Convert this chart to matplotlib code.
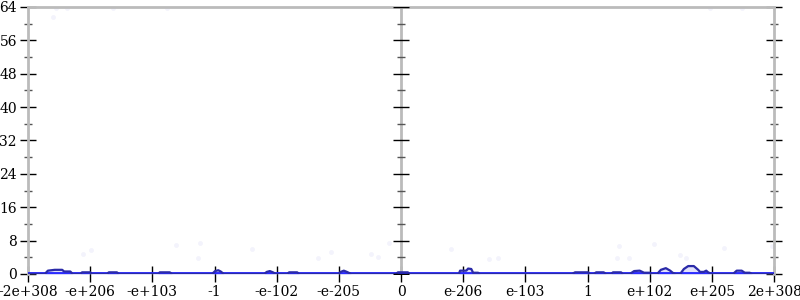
import matplotlib
matplotlib.use("Agg")
import matplotlib.pyplot as plt
import numpy as np

# tick positions are evenly spaced "ulp" buckets across the double range
tick_labels = ["-2e+308", "-e+206", "-e+103", "-1", "-e-102", "-e-205", "0",
               "e-206", "e-103", "1", "e+102", "e+205", "2e+308"]
y_ticks = [0, 8, 16, 24, 32, 40, 48, 56, 64]

# histogram curve (bucket position, count)
curve_x = [0, 0.27, 0.32, 0.43, 0.55, 0.58, 0.68, 0.72, 0.84, 0.87, 1.0, 1.03,
           1.27, 1.30, 1.43, 1.46, 2.09, 2.12, 2.28, 2.32, 2.96, 3.01, 3.06, 3.10,
           3.15, 3.80, 3.84, 3.89, 3.94, 3.99, 4.17, 4.20, 4.33, 4.36, 4.99, 5.03,
           5.08, 5.13, 5.20, 5.92, 5.95, 6.11, 6.14, 6.93, 6.95, 7.05, 7.08, 7.13,
           7.16, 7.24, 7.27, 8.75, 8.80, 9.01, 9.04, 9.10, 9.14, 9.26, 9.30, 9.38,
           9.41, 9.54, 9.57, 9.68, 9.75, 9.84, 9.91, 10.0, 10.04, 10.12, 10.18,
           10.26, 10.33, 10.37, 10.42, 10.49, 10.55, 10.62, 10.71, 10.78, 10.81,
           10.87, 10.91, 10.94, 11.0, 11.34, 11.40, 11.48, 11.53, 11.61, 11.65, 12]
curve_y = [0, 0, 0.8, 1.0, 1.0, 0.6, 0.6, 0, 0, 0.4, 0.4, 0,
           0, 0.4, 0.4, 0, 0, 0.4, 0.4, 0, 0, 0.7, 0.9, 0.6,
           0, 0, 0.5, 0.7, 0.4, 0, 0, 0.4, 0.4, 0, 0, 0.5,
           0.8, 0.5, 0, 0, 0.4, 0.4, 0, 0, 0.8, 0.8, 1.3, 1.2,
           0.3, 0.3, 0, 0, 0.4, 0.4, 0, 0, 0.4, 0.4, 0, 0,
           0.4, 0.4, 0, 0, 0.7, 0.8, 0.3, 0.3, 0, 0, 1.0,
           1.4, 0.8, 0.3, 0, 0, 1.2, 1.9, 1.9, 1.0, 0.5,
           0.5, 0.8, 0.4, 0, 0, 0.8, 0.8, 0.3, 0.3, 0, 0]

# faint individual samples
dots_x = [0.88, 1.01, 2.38, 2.77, 2.73, 3.60, 4.66, 4.87, 5.52, 5.63, 5.81,
          6.80, 7.42, 7.56, 9.51, 9.47, 9.67, 10.07, 10.49, 10.58, 11.20, 11.97,
          0.45, 0.63, 1.37, 2.24, 0.40, 10.97, 11.48]
dots_y = [4.8, 5.75, 6.95, 7.4, 3.8, 6.0, 3.8, 5.3, 4.8, 4.1, 7.4,
          6.0, 3.6, 3.8, 6.7, 3.8, 3.8, 7.2, 4.6, 3.8, 6.2, 6.7,
          63.8, 63.8, 63.8, 63.8, 61.6, 63.8, 63.8]

plt.rcParams['font.family'] = ['DejaVu Serif']
fig = plt.figure(figsize=(8, 3), dpi=100)
ax = fig.add_axes([0.035, 0.0867, 0.9325, 0.89])

grey = '#bbbbbb'
ax.scatter(dots_x, dots_y, s=12, color='#f3f3fc', zorder=1, linewidths=0)
ax.axvline(6, color=grey, lw=2, zorder=2)
ax.fill_between(curve_x, 0, curve_y, color='#8888ee', alpha=0.25, zorder=3)
ax.plot(curve_x, curve_y, color='#2a2aa8', lw=1.6, zorder=4)
ax.axhline(0, color='#2b2bff', lw=2.8, zorder=3)

ax.set_xlim(0, 12)
ax.set_ylim(0, 64)

for side in ['left', 'right', 'top']:
    ax.spines[side].set_color(grey)
    ax.spines[side].set_linewidth(2)
ax.spines['bottom'].set_visible(False)

ax.set_xticks(np.arange(13))
ax.set_xticklabels(tick_labels, fontsize=10)
ax.set_yticks(y_ticks)
ax.set_yticklabels([str(v) for v in y_ticks], fontsize=10)
ax.set_yticks(np.arange(4, 64, 8), minor=True)

ax.tick_params(axis='both', which='major', direction='inout', length=12,
               width=1, color='black', pad=2)
ax.tick_params(axis='y', which='major', right=True, labelright=False)
ax.tick_params(axis='y', which='minor', direction='inout', length=6,
               width=1, color='#555555', right=True)

# tick marks on the centre (zero) line
ax.plot([6] * len(y_ticks), y_ticks, ls='none', marker='_', ms=12,
        mew=1, color='black', zorder=5)
ax.plot([6] * 8, np.arange(4, 64, 8), ls='none', marker='_', ms=6,
        mew=1, color='#555555', zorder=5)

fig.savefig('out.png', dpi=100)
